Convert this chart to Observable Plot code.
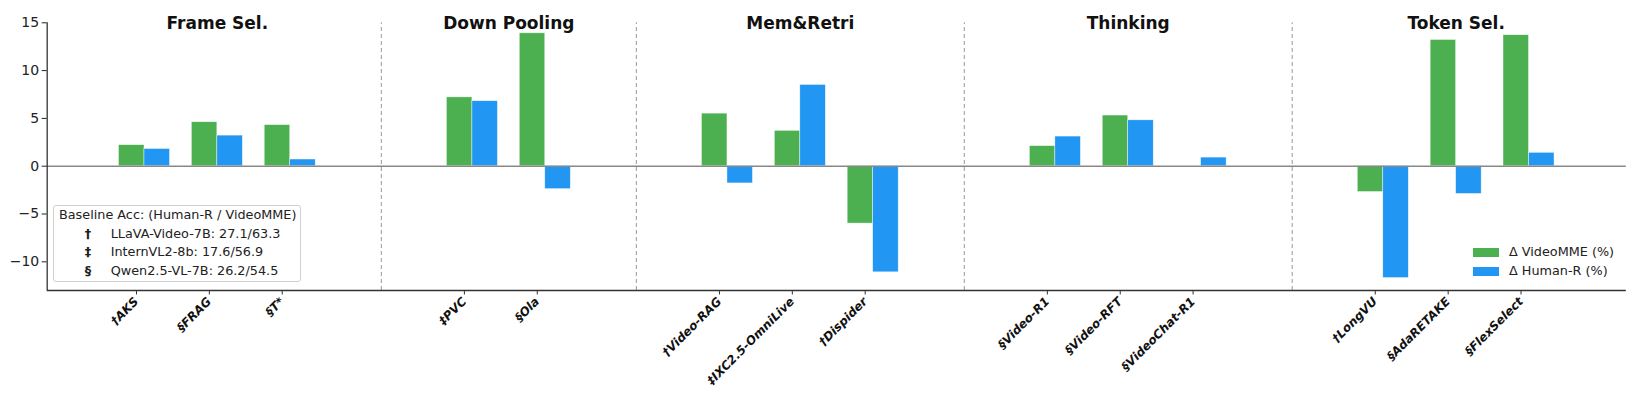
<!DOCTYPE html>
<html><head><meta charset="utf-8">
<script src="https://cdn.jsdelivr.net/npm/d3@7"></script>
<script src="https://cdn.jsdelivr.net/npm/@observablehq/plot@0.6"></script>
<style>
body{margin:0;background:#fff;font-family:"DejaVu Sans",sans-serif;}
#wrap{position:relative;width:1638px;height:399px;overflow:hidden;}
.lg{position:absolute;font-size:12.8px;color:#222;white-space:nowrap;line-height:1;}
#box{position:absolute;left:53px;top:205px;width:248px;height:77px;border:1px solid #d0d0d0;border-radius:3px;background:rgba(255,255,255,0.8);box-sizing:border-box;}
.sym{font-weight:bold;text-align:center;width:14px;}
.sw{position:absolute;width:26px;height:9px;}
</style></head><body><div id="wrap"></div>
<script>
const groups = ["Frame Sel.","Down Pooling","Mem&Retri","Thinking","Token Sel."];
const methods = ["†AKS","§FRAG","§T*","‡PVC","§Ola","†Video-RAG","‡IXC2.5-OmniLive","†Dispider","§Video-R1","§Video-RFT","§VideoChat-R1","†LongVU","§AdaRETAKE","§FlexSelect"];
const methodGroup = ["Frame Sel.","Frame Sel.","Frame Sel.","Down Pooling","Down Pooling","Mem&Retri","Mem&Retri","Mem&Retri","Thinking","Thinking","Thinking","Token Sel.","Token Sel.","Token Sel."];
const deltaVideoMME = [2.2,4.6,4.3,7.2,13.9,5.5,3.7,-6.0,2.1,5.3,0,-2.7,13.2,13.7];
const deltaHumanR = [1.8,3.2,0.7,6.8,-2.4,-1.8,8.5,-11.1,3.1,4.8,0.9,-11.7,-2.9,1.4];
const series = ["Δ VideoMME (%)","Δ Human-R (%)"];
const yTicks = [-10,-5,0,5,10,15];
const legendTitle = "Baseline Acc: (Human-R / VideoMME)";
const baselineSymbols = ["†","‡","§"];
const baselineTexts = ["LLaVA-Video-7B: 27.1/63.3","InternVL2-8b: 17.6/56.9","Qwen2.5-VL-7B: 26.2/54.5"];

const colors = ["#4CAF50","#2196F3"];
const barW = 0.35, groupGap = 2.5;

// category positions: step 1 within a group, wider step between groups
const pos = [];
methods.forEach((m,i)=>{
  if(i===0) pos.push(0);
  else pos.push(pos[i-1] + (methodGroup[i]===methodGroup[i-1] ? 1 : groupGap));
});
const bars = [];
methods.forEach((m,i)=>{
  bars.push({x1:pos[i]-barW, x2:pos[i], v:deltaVideoMME[i], s:series[0]});
  bars.push({x1:pos[i], x2:pos[i]+barW, v:deltaHumanR[i], s:series[1]});
});
const seps = [];
for(let i=1;i<methods.length;i++) if(methodGroup[i]!==methodGroup[i-1]) seps.push((pos[i]+pos[i-1])/2);
const titles = groups.map(g=>{
  const p = pos.filter((_,i)=>methodGroup[i]===g);
  return {g, x:(d3.min(p)+d3.max(p))/2};
});
const lo = pos[0]-barW, hi = pos[pos.length-1]+barW, pad = (hi-lo)*0.05;
const xDom = [lo-pad, hi+pad];
const yDom = [-13, 15];

const chart = Plot.plot({
  width:1638, height:399,
  marginLeft:46.7, marginRight:12.2, marginTop:22.3, marginBottom:109,
  style:{fontFamily:"DejaVu Sans", background:"#fff", overflow:"visible"},
  x:{type:"linear", domain:xDom, axis:null},
  y:{domain:yDom, axis:null},
  marks:[
    Plot.ruleX(seps,{x:d=>d, y1:yDom[0], y2:yDom[1], stroke:"#999", strokeWidth:1, strokeDasharray:"4,3"}),
    Plot.rect(bars,{x1:"x1", x2:"x2", y1:0, y2:"v", fill:d=>d.s===series[0]?colors[0]:colors[1], stroke:"#fff", strokeWidth:0.6, strokeOpacity:0.7}),
    Plot.ruleY([0],{stroke:"#888", strokeWidth:1.4}),
    Plot.text(titles,{x:"x", y:yDom[1], text:"g", dy:1, fontWeight:"bold", fontSize:17, fill:"#111", lineAnchor:"middle"}),
    Plot.axisY({ticks:yTicks, label:null, tickSize:5, tickPadding:3, fontSize:14, stroke:"#222", color:"#222", tickFormat:d=>d<0?"\u2212"+(-d):String(d)}),
    Plot.axisX({ticks:pos, label:null, tickSize:4.5, tickPadding:4.5, dx:-8, tickRotate:-45, fontSize:12, fontWeight:"bold", fontStyle:"italic", color:"#111", stroke:"#333", tickFormat:d=>methods[pos.indexOf(d)]}),
    Plot.ruleX([xDom[0]],{y1:yDom[0], y2:yDom[1], stroke:"#333", strokeWidth:1.3}),
    Plot.ruleY([yDom[0]],{x1:xDom[0], x2:xDom[1], stroke:"#333", strokeWidth:1.3})
  ]
});
const wrap = document.getElementById("wrap");
wrap.appendChild(chart);

// baseline legend (upper-left box)
const box = document.createElement("div"); box.id="box"; wrap.appendChild(box);
function addText(txt,left,cy,cls){
  const d=document.createElement("div"); d.className="lg"+(cls?" "+cls:""); d.textContent=txt;
  d.style.left=left+"px"; d.style.top=(cy-6.5)+"px"; wrap.appendChild(d); return d;
}
addText(legendTitle,59,215);
baselineSymbols.forEach((s,i)=>{
  addText(s,81,234+i*18.8,"sym");
  addText(baselineTexts[i],110.7,234+i*18.8);
});
// series legend (lower-right)
series.forEach((s,i)=>{
  const sw=document.createElement("div"); sw.className="sw"; sw.style.background=colors[i];
  sw.style.left="1473px"; sw.style.top=(248+i*18.8)+"px"; wrap.appendChild(sw);
  addText(s,1509,252.5+i*18.8);
});
</script></body></html>
